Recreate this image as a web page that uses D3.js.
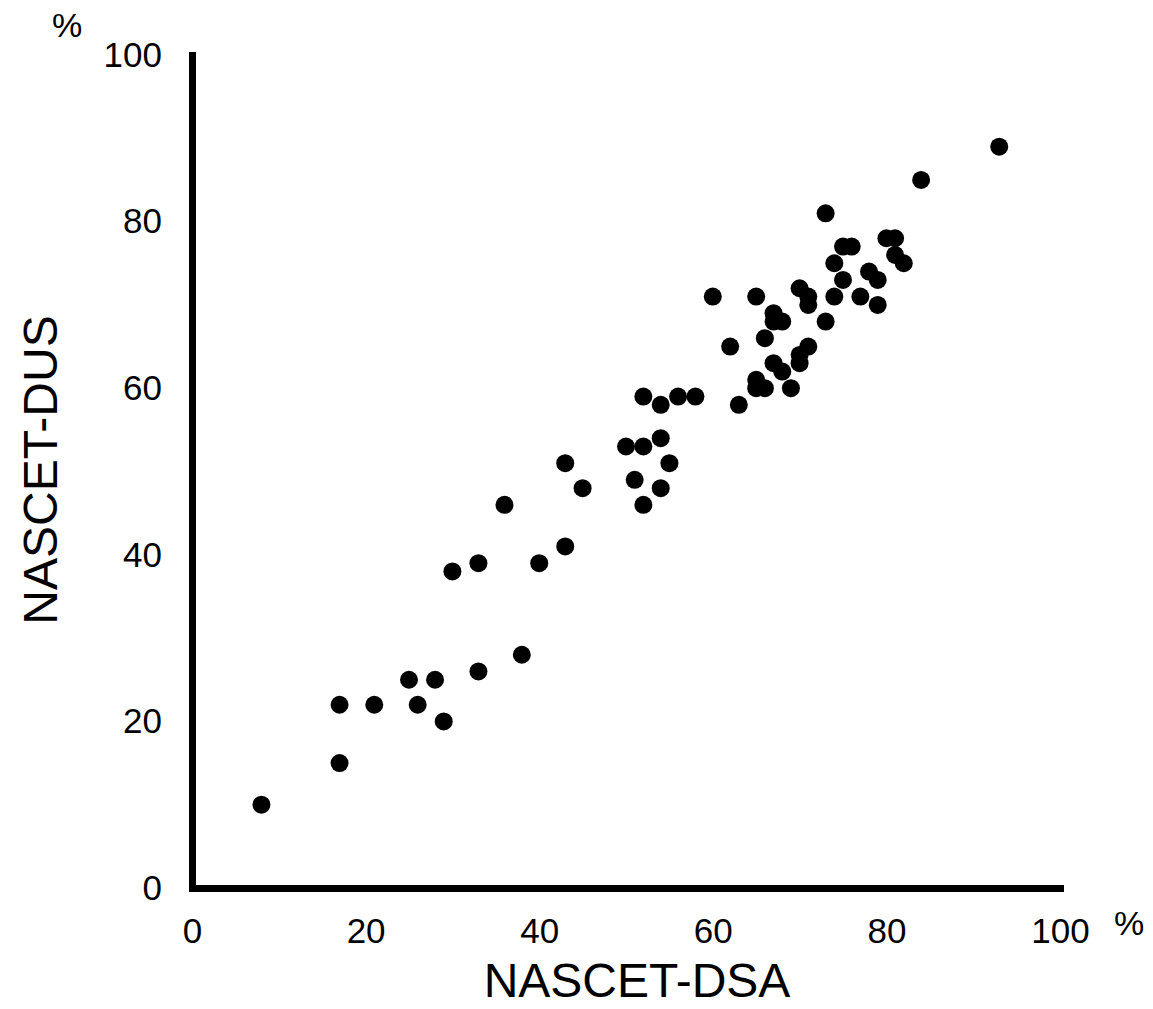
<!DOCTYPE html>
<html lang="en">
<head>
    <meta charset="UTF-8">
    <title>NASCET DSA vs DUS</title>
    <script src="https://d3js.org/d3.v7.min.js"></script>
    <style>
        body { margin: 0; background: #fff; }
        text { font-family: "Liberation Sans", Arial, sans-serif; fill: #000; }
    </style>
</head>
<body>
</body>
<script>
    // stenosis measured by DSA (x) and by duplex ultrasound (y), %
    const dsa = [8, 17, 17, 21, 25, 28, 26, 29, 33, 38,
        30, 33, 36, 40, 43, 43, 45, 50, 52, 51,
        52, 52, 54, 54, 54, 55, 56, 58, 60, 62,
        63, 65, 65, 65, 66, 66, 67, 67, 68, 67,
        68, 69, 70, 70, 70, 71, 71, 71, 73, 73,
        74, 74, 75, 75, 76, 77, 78, 79, 79, 80,
        81, 81, 82, 84, 93];
    const dus = [10, 15, 22, 22, 25, 25, 22, 20, 26, 28,
        38, 39, 46, 39, 41, 51, 48, 53, 53, 49,
        46, 59, 54, 58, 48, 51, 59, 59, 71, 65,
        58, 71, 61, 60, 60, 66, 69, 68, 68, 63,
        62, 60, 72, 63, 64, 71, 70, 65, 81, 68,
        75, 71, 77, 73, 77, 71, 74, 73, 70, 78,
        78, 76, 75, 85, 89];
    const xTicks = [0, 20, 40, 60, 80, 100];
    const yTicks = [0, 20, 40, 60, 80, 100];

    const WIDTH = 1153, HEIGHT = 1009;
    const margin = {left: 192, right: 93, top: 55, bottom: 121};

    const svg = d3.select("body").append("svg")
        .attr("width", WIDTH).attr("height", HEIGHT);

    const x = d3.scaleLinear().domain([0, 100]).range([margin.left, WIDTH - margin.right]);
    const y = d3.scaleLinear().domain([0, 100]).range([HEIGHT - margin.bottom, margin.top]);

    const xAxis = svg.append("g")
        .attr("transform", `translate(0,${y(0)})`)
        .call(d3.axisBottom(x).tickValues(xTicks).tickSize(0).tickPadding(30));
    const yAxis = svg.append("g")
        .attr("transform", `translate(${x(0)},0)`)
        .call(d3.axisLeft(y).tickValues(yTicks).tickSize(0).tickPadding(30));

    [xAxis, yAxis].forEach(g => {
        g.select(".domain").attr("stroke", "#000").attr("stroke-width", 7).attr("stroke-linecap", "square");
        g.selectAll(".tick text").style("font-size", "35px").attr("font-family", null);
    });

    svg.append("g").selectAll("circle")
        .data(dsa.map((d, i) => [d, dus[i]]))
        .join("circle")
        .attr("cx", d => x(d[0]))
        .attr("cy", d => y(d[1]))
        .attr("r", 9)
        .attr("fill", "#000");

    svg.append("text")
        .attr("x", 637).attr("y", 997)
        .attr("text-anchor", "middle")
        .style("font-size", "48px")
        .text("NASCET-DSA");

    svg.append("text")
        .attr("transform", `translate(57,470) rotate(-90)`)
        .attr("text-anchor", "middle")
        .style("font-size", "48px")
        .text("NASCET-DUS");

    svg.append("text")
        .attr("x", 67).attr("y", 37)
        .attr("text-anchor", "middle")
        .style("font-size", "34px")
        .text("%");

    svg.append("text")
        .attr("x", 1129).attr("y", 935)
        .attr("text-anchor", "middle")
        .style("font-size", "34px")
        .text("%");
</script>
</html>
